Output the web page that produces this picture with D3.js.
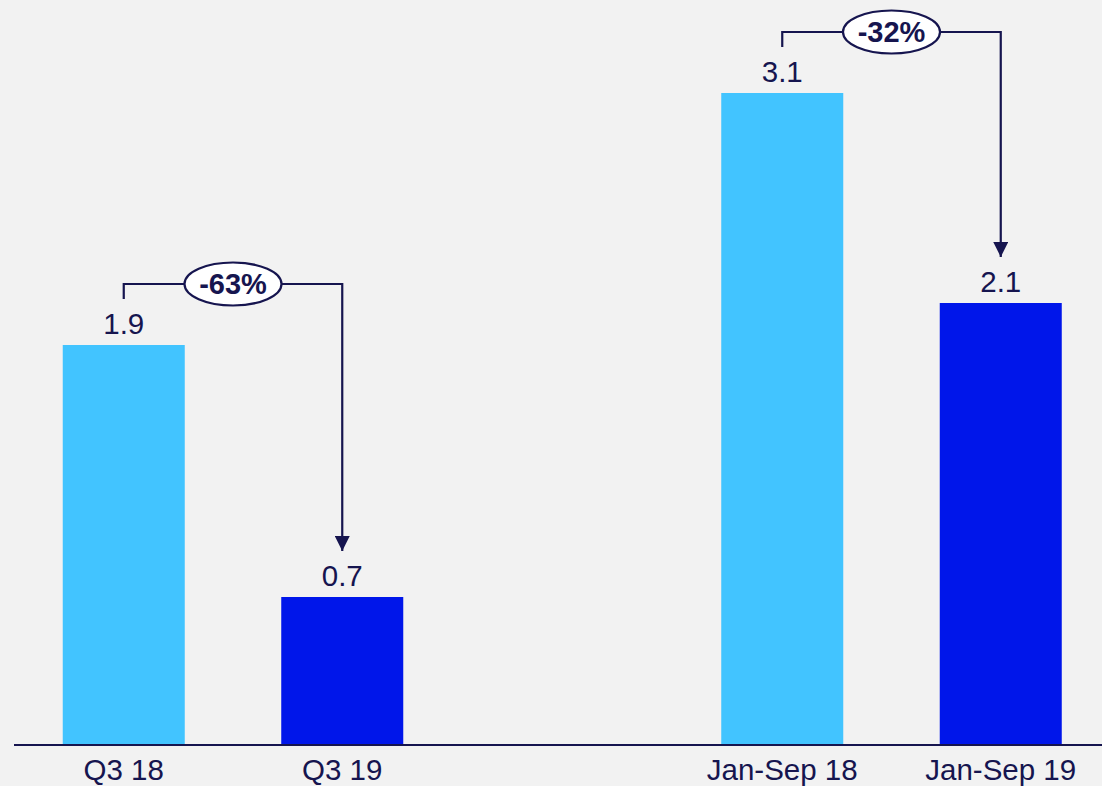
<!DOCTYPE html>
<html>
<head>
<meta charset="utf-8">
<script src="https://cdn.jsdelivr.net/npm/d3@7"></script>
<style>
  html, body { margin: 0; padding: 0; background: #f2f2f2; }
  svg { display: block; font-family: "Liberation Sans", Arial, Helvetica, sans-serif; }
</style>
</head>
<body>
<div id="chart"></div>
<script>
var width = 1102;
var height = 786;

// data
var groups = ["Q3", "Jan-Sep"];
var periods = ["18", "19"];
var categories = ["Q3 18", "Q3 19", "Jan-Sep 18", "Jan-Sep 19"];
var values = [1.9, 0.7, 3.1, 2.1];
var changes = ["-63%", "-32%"];

var navy = "#16154f";
var colors = { "18": "#42c4ff", "19": "#0016ea" };

var svg = d3.select("#chart")
  .append("svg")
  .attr("width", width)
  .attr("height", height);

svg.append("rect")
  .attr("width", width)
  .attr("height", height)
  .attr("fill", "#f2f2f2");

var baseY = 744;

var y = d3.scaleLinear()
  .domain([0, 3.1])
  .range([baseY, 93]);

var xGroup = d3.scalePoint()
  .domain(groups)
  .range([233, 891.5]);

var xInner = d3.scaleBand()
  .domain(periods)
  .range([-218.5, 218.5])
  .paddingInner(0.4416)
  .paddingOuter(0.2208);

var rows = categories.map(function (c, i) {
  return {
    name: c,
    group: groups[Math.floor(i / 2)],
    period: periods[i % 2],
    value: values[i]
  };
});

function barX(d) {
  return xGroup(d.group) + xInner(d.period);
}
function barCx(d) {
  return barX(d) + xInner.bandwidth() / 2;
}

// bars
svg.append("g")
  .selectAll("rect")
  .data(rows)
  .enter()
  .append("rect")
  .attr("x", barX)
  .attr("y", function (d) { return y(d.value); })
  .attr("width", xInner.bandwidth())
  .attr("height", function (d) { return baseY - y(d.value); })
  .attr("fill", function (d) { return colors[d.period]; });

// baseline
svg.append("line")
  .attr("x1", 14)
  .attr("x2", width)
  .attr("y1", baseY + 1)
  .attr("y2", baseY + 1)
  .attr("stroke", navy)
  .attr("stroke-width", 2);

// category labels
svg.append("g")
  .selectAll("text")
  .data(rows)
  .enter()
  .append("text")
  .attr("x", barCx)
  .attr("y", 780)
  .attr("text-anchor", "middle")
  .attr("fill", navy)
  .style("font-size", "29.5px")
  .text(function (d) { return d.name; });

// value labels
svg.append("g")
  .selectAll("text")
  .data(rows)
  .enter()
  .append("text")
  .attr("x", barCx)
  .attr("y", function (d) { return y(d.value) - 11; })
  .attr("text-anchor", "middle")
  .attr("fill", navy)
  .style("font-size", "29.5px")
  .text(function (d) { return d.value.toFixed(1); });

// arrow marker
svg.append("defs")
  .append("marker")
  .attr("id", "arrow")
  .attr("viewBox", "0 0 10 10")
  .attr("refX", 10)
  .attr("refY", 5)
  .attr("markerWidth", 15)
  .attr("markerHeight", 15)
  .attr("markerUnits", "userSpaceOnUse")
  .attr("orient", "auto")
  .append("path")
  .attr("d", "M0,0 L10,5 L0,10 Z")
  .attr("fill", navy);

// change brackets
groups.forEach(function (g, i) {
  var a = rows[i * 2];
  var b = rows[i * 2 + 1];
  var x1 = barCx(a);
  var x2 = barCx(b);
  var top = y(Math.max(a.value, b.value)) - 61;

  var bracket = svg.append("g");

  bracket.append("path")
    .attr("d", "M" + x1 + "," + (y(a.value) - 46) +
      " V" + top + " H" + x2 + " V" + (y(b.value) - 46))
    .attr("fill", "none")
    .attr("stroke", navy)
    .attr("stroke-width", 2.2)
    .attr("marker-end", "url(#arrow)");

  var cx = (x1 + x2) / 2;

  bracket.append("ellipse")
    .attr("cx", cx)
    .attr("cy", top)
    .attr("rx", 48.5)
    .attr("ry", 21.5)
    .attr("fill", "white")
    .attr("stroke", navy)
    .attr("stroke-width", 2.2);

  bracket.append("text")
    .attr("x", cx)
    .attr("y", top)
    .attr("dy", "0.36em")
    .attr("text-anchor", "middle")
    .attr("fill", navy)
    .style("font-size", "29px")
    .style("font-weight", "bold")
    .text(changes[i]);
});
</script>
</body>
</html>
